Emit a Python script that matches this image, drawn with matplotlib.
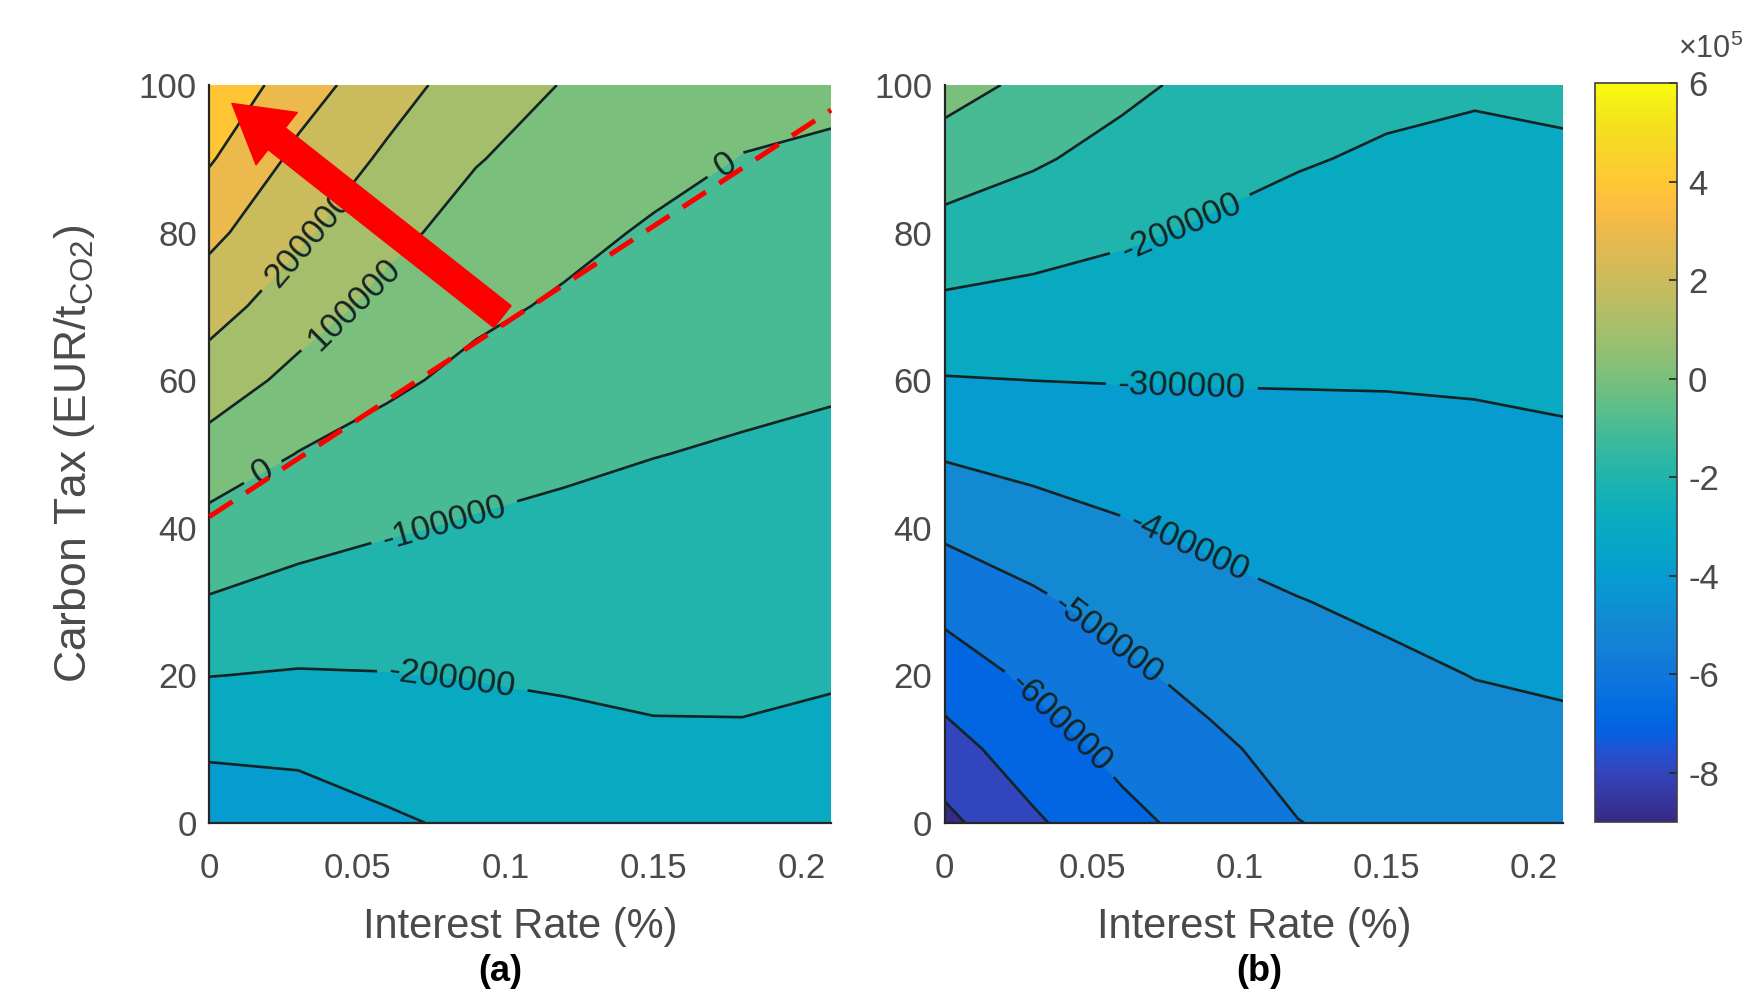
import numpy as np
import matplotlib
matplotlib.use('Agg')
import matplotlib.pyplot as plt
from matplotlib.colors import LinearSegmentedColormap, Normalize
from matplotlib.cm import ScalarMappable

# ---------------- data ----------------
interest_rate = [0.0, 0.03, 0.06, 0.09, 0.12, 0.15, 0.18, 0.21]
carbon_tax = [0, 10, 20, 30, 40, 50, 60, 70, 80, 90, 100]

# panel (a): rows = carbon tax, columns = interest rate
value_a = [
    [-371000, -351400, -312000, -283800, -260200, -241500, -237000, -244900],
    [-284500, -279000, -257400, -239900, -225000, -212900, -211100, -219200],
    [-198200, -206500, -202700, -196100, -189800, -184200, -185300, -193600],
    [-107300, -134500, -147200, -152200, -154600, -155600, -159400, -167900],
    [-30800, -66700, -91800, -108300, -119400, -126900, -133600, -142300],
    [60800, -2600, -37200, -65700, -83800, -98200, -107800, -116700],
    [153400, 72700, 17000, -23300, -47800, -68800, -81600, -90700],
    [239300, 146700, 70200, 19300, -11900, -39400, -55300, -64100],
    [324600, 216500, 125700, 62200, 23800, -10000, -28900, -37500],
    [409300, 277400, 184200, 105200, 59400, 27800, -2600, -10900],
    [490000, 345000, 242000, 152000, 95000, 70000, 30000, 15700],
]

# panel (b)
value_b = [
    [-825000, -714900, -627200, -563900, -501700, -475900, -451200, -442900],
    [-738800, -647300, -572800, -518300, -468500, -445800, -424800, -416900],
    [-653400, -580600, -518500, -472600, -435400, -415700, -398400, -390900],
    [-568100, -516100, -463700, -426900, -402300, -385500, -372000, -364900],
    [-480900, -441400, -408800, -382300, -366800, -355400, -345600, -339000],
    [-390600, -368000, -352800, -339000, -331100, -325300, -319300, -313000],
    [-305100, -299500, -296700, -295800, -295600, -295400, -293100, -287200],
    [-219000, -231000, -241800, -253400, -261700, -266900, -267600, -261600],
    [-132200, -159900, -186900, -211000, -227800, -238300, -242100, -236100],
    [-46600, -88100, -132200, -168600, -193900, -209700, -216600, -210500],
    [38100, -22000, -77000, -126300, -160000, -181100, -191100, -184900],
]

levels_a = [-400000, -300000, -200000, -100000, 0, 100000, 200000, 300000, 400000, 500000]
levels_b = [-900000, -800000, -700000, -600000, -500000, -400000, -300000, -200000, -100000, 0, 100000]

x_ticks = [0, 0.05, 0.1, 0.15, 0.2]
x_tick_labels = ['0', '0.05', '0.1', '0.15', '0.2']
y_ticks = [0, 20, 40, 60, 80, 100]
cbar_ticks = [-800000, -600000, -400000, -200000, 0, 200000, 400000, 600000]
cbar_tick_labels = ['-8', '-6', '-4', '-2', '0', '2', '4', '6']
color_min, color_max = -900000, 600000

# annotation: red boundary line and arrow in panel (a)
boundary_rate = [0.0, 0.21]
boundary_tax = [41.5, 96.6]
arrow_tail = (0.099, 68.6)
arrow_tip = (0.0076, 97.5)

# label anchor points on the contour lines
label_pos_a = [(0.0209, 45.5), (0.174, 89.4), (0.0792, 40.9), (0.082, 19.1),
               (0.0494, 70.1), (0.0342, 79.0)]
label_pos_b = [(0.0805, 80.5), (0.0805, 58.8), (0.0825, 37.0), (0.054, 24.2),
               (0.0384, 13.1)]

# ---------------- parula colormap ----------------
PARULA = [
    [0.2081, 0.1663, 0.5292], [0.2116, 0.1898, 0.5777], [0.2123, 0.2138, 0.6270],
    [0.2081, 0.2386, 0.6771], [0.1959, 0.2645, 0.7279], [0.1707, 0.2919, 0.7792],
    [0.1253, 0.3242, 0.8303], [0.0591, 0.3598, 0.8683], [0.0117, 0.3875, 0.8820],
    [0.0060, 0.4086, 0.8828], [0.0165, 0.4266, 0.8786], [0.0329, 0.4430, 0.8720],
    [0.0498, 0.4586, 0.8641], [0.0629, 0.4737, 0.8554], [0.0723, 0.4887, 0.8467],
    [0.0779, 0.5040, 0.8384], [0.0793, 0.5200, 0.8312], [0.0749, 0.5375, 0.8263],
    [0.0641, 0.5570, 0.8240], [0.0488, 0.5772, 0.8228], [0.0343, 0.5966, 0.8199],
    [0.0265, 0.6137, 0.8135], [0.0239, 0.6287, 0.8038], [0.0231, 0.6418, 0.7913],
    [0.0228, 0.6535, 0.7768], [0.0267, 0.6642, 0.7607], [0.0384, 0.6743, 0.7436],
    [0.0590, 0.6838, 0.7254], [0.0843, 0.6928, 0.7062], [0.1133, 0.7015, 0.6859],
    [0.1453, 0.7098, 0.6646], [0.1801, 0.7177, 0.6424], [0.2178, 0.7250, 0.6193],
    [0.2586, 0.7317, 0.5954], [0.3022, 0.7376, 0.5712], [0.3482, 0.7424, 0.5473],
    [0.3953, 0.7459, 0.5244], [0.4420, 0.7481, 0.5033], [0.4871, 0.7491, 0.4840],
    [0.5300, 0.7491, 0.4661], [0.5709, 0.7485, 0.4494], [0.6099, 0.7473, 0.4337],
    [0.6473, 0.7456, 0.4188], [0.6834, 0.7435, 0.4044], [0.7184, 0.7411, 0.3905],
    [0.7525, 0.7384, 0.3768], [0.7858, 0.7356, 0.3633], [0.8185, 0.7327, 0.3498],
    [0.8507, 0.7299, 0.3360], [0.8824, 0.7274, 0.3217], [0.9139, 0.7258, 0.3063],
    [0.9450, 0.7261, 0.2886], [0.9739, 0.7314, 0.2666], [0.9938, 0.7455, 0.2403],
    [0.9990, 0.7653, 0.2164], [0.9955, 0.7861, 0.1967], [0.9880, 0.8066, 0.1794],
    [0.9789, 0.8271, 0.1633], [0.9697, 0.8481, 0.1475], [0.9626, 0.8705, 0.1309],
    [0.9589, 0.8949, 0.1132], [0.9598, 0.9218, 0.0948], [0.9661, 0.9514, 0.0755],
    [0.9763, 0.9831, 0.0538],
]
cmap = LinearSegmentedColormap.from_list('parula', PARULA, N=256)
norm = Normalize(vmin=color_min, vmax=color_max)

# ---------------- style ----------------
plt.rcParams['font.family'] = ['Liberation Sans', 'DejaVu Sans']
plt.rcParams['mathtext.fontset'] = 'custom'
plt.rcParams['mathtext.rm'] = 'Liberation Sans'
plt.rcParams['mathtext.it'] = 'Liberation Sans:italic'
plt.rcParams['mathtext.bf'] = 'Liberation Sans:bold'
plt.rcParams['axes.unicode_minus'] = False
plt.rcParams['contour.negative_linestyle'] = 'solid'

TEXT = '#4a4a4a'
LINE = '#132424'
TICK_FS = 25
LABEL_FS = 30

fig = plt.figure(figsize=(17.47, 9.93), dpi=100)
ax_a = fig.add_axes([0.1199, 0.1715, 0.3558, 0.7429])
ax_b = fig.add_axes([0.5408, 0.1715, 0.3540, 0.7429])
cax = fig.add_axes([0.9130, 0.1722, 0.0469, 0.7442])

X, Y = np.meshgrid(interest_rate, carbon_tax)


def draw_panel(ax, values, levels, label_pos):
    Z = np.array(values, dtype=float)
    band_colors = [cmap(norm(lv)) for lv in levels[:-1]]
    ax.contourf(X, Y, Z, levels=levels, colors=band_colors)
    cs = ax.contour(X, Y, Z, levels=levels[1:-1], colors=LINE, linewidths=1.9,
                    linestyles='solid')
    ax.clabel(cs, manual=label_pos, inline=True, inline_spacing=12,
              fontsize=TICK_FS, fmt=lambda v: f'{v:.0f}', colors=LINE)
    ax.set_xlim(interest_rate[0], interest_rate[-1])
    ax.set_ylim(carbon_tax[0], carbon_tax[-1])
    ax.set_xticks(x_ticks)
    ax.set_xticklabels(x_tick_labels)
    ax.set_yticks(y_ticks)
    ax.tick_params(length=0, labelsize=TICK_FS, labelcolor=TEXT)
    ax.tick_params(axis='x', pad=21)
    ax.tick_params(axis='y', pad=9)
    for s in ['top', 'right']:
        ax.spines[s].set_visible(False)
    for s in ['left', 'bottom']:
        ax.spines[s].set_color('#262626')
        ax.spines[s].set_linewidth(1.6)
        ax.spines[s].set_zorder(4)
    ax.set_xlabel('Interest Rate (%)', fontsize=LABEL_FS, color=TEXT, labelpad=16)


draw_panel(ax_a, value_a, levels_a, label_pos_a)
draw_panel(ax_b, value_b, levels_b, label_pos_b)

ax_a.set_ylabel('Carbon Tax (EUR/t$_{\\mathrm{CO2}}$)', fontsize=32, color=TEXT, labelpad=30)

# red boundary and arrow
ax_a.plot(boundary_rate, boundary_tax, color='red', lw=3.6, dashes=(5.5, 3.2),
          clip_on=False, zorder=6)
ax_a.annotate('', xy=arrow_tip, xytext=arrow_tail,
              arrowprops=dict(arrowstyle='simple,head_length=4.1,head_width=4.8,tail_width=2.0',
                              color='red', mutation_scale=10, shrinkA=0, shrinkB=0),
              zorder=7)

# colorbar
sm = ScalarMappable(norm=norm, cmap=cmap)
cb = fig.colorbar(sm, cax=cax)
cb.set_ticks(cbar_ticks)
cb.set_ticklabels(cbar_tick_labels)
cax.tick_params(direction='in', length=6, width=1.2, color='#262626',
                labelsize=TICK_FS, labelcolor=TEXT, pad=8)
cb.outline.set_edgecolor('#404040')
cb.outline.set_linewidth(1.2)
fig.text(0.9975, 0.950, '\u00d710$^5$', fontsize=22, color=TEXT, ha='right', va='center')

# panel captions
fig.text(0.2862, 0.004, '(a)', fontsize=26, fontweight='bold', ha='center', va='bottom')
fig.text(0.7207, 0.004, '(b)', fontsize=26, fontweight='bold', ha='center', va='bottom')

fig.savefig('out.png', dpi=100, facecolor='white')
